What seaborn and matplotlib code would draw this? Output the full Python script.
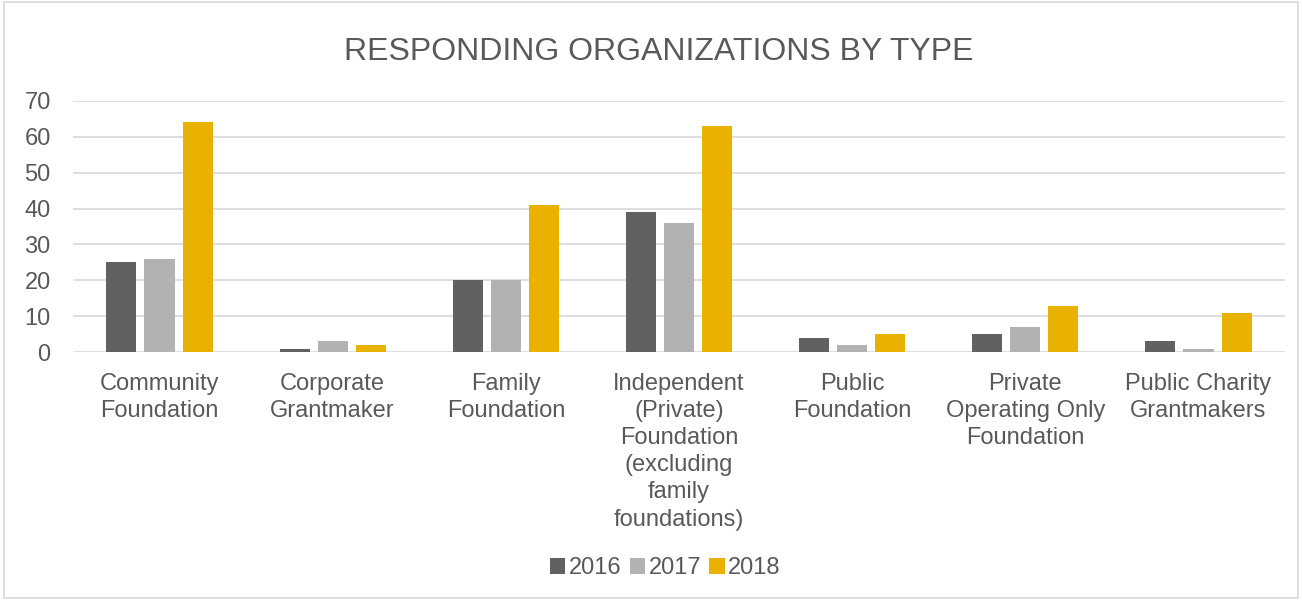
import pandas as pd
import matplotlib.pyplot as plt
import seaborn as sns
from matplotlib.patches import Rectangle

# Veriler
categories = [
    "Community\nFoundation",
    "Corporate\nGrantmaker",
    "Family\nFoundation",
    "Independent\n(Private)\nFoundation\n(excluding\nfamily\nfoundations)",
    "Public\nFoundation",
    "Private\nOperating Only\nFoundation",
    "Public Charity\nGrantmakers",
]
years = ["2016", "2017", "2018"]
vals_2016 = [25, 1, 20, 39, 4, 5, 3]
vals_2017 = [26, 3, 20, 36, 2, 7, 1]
vals_2018 = [64, 2, 41, 63, 5, 13, 11]
y_ticks = [0, 10, 20, 30, 40, 50, 60, 70]

colors = ["#616161", "#b2b2b2", "#e9b200"]
text_color = "#595959"

df = pd.DataFrame({
    "Type": categories * 3,
    "Year": [y for y in years for _ in categories],
    "Count": vals_2016 + vals_2017 + vals_2018,
})

sns.set_style("white")
plt.rcParams["font.family"] = ["Liberation Sans", "DejaVu Sans"]

fig = plt.figure(figsize=(13.02, 6), dpi=100)
ax = fig.add_axes([0.056, 0.413, 0.931, 0.419])

sns.barplot(data=df, x="Type", y="Count", hue="Year", palette=colors,
            width=0.66, gap=0.21, ax=ax, legend=True, saturation=1,
            linewidth=0)

ax.set_ylim(0, 70)
ax.set_yticks(y_ticks)
ax.set_xlim(-0.5, len(categories) - 0.5)
ax.yaxis.grid(True, color="#d9d9d9", linewidth=1.2)
ax.set_axisbelow(True)
for s in ax.spines.values():
    s.set_visible(False)
ax.set_xlabel("")
ax.set_ylabel("")
ax.tick_params(axis="both", length=0, colors=text_color, labelsize=17)
ax.tick_params(axis="x", pad=15)
ax.tick_params(axis="y", pad=16)
for lbl in ax.get_xticklabels():
    lbl.set_linespacing(1.3)

fig.suptitle("RESPONDING ORGANIZATIONS BY TYPE", y=0.913, va="center",
             fontsize=23, color=text_color, x=0.506)

handles, labels = ax.get_legend_handles_labels()
ax.legend_.remove()
fig.legend(handles, labels, loc="center", bbox_to_anchor=(0.511, 0.053),
           ncol=3, frameon=False, fontsize=17, handlelength=0.65,
           handleheight=0.65, handletextpad=0.15, columnspacing=0.35,
           labelcolor=text_color)

fig.patches.append(Rectangle((0.003, 0.003), 0.994, 0.994,
                             transform=fig.transFigure, fill=False,
                             edgecolor="#d9d9d9", linewidth=1.2))

fig.savefig("out.png", dpi=100)
